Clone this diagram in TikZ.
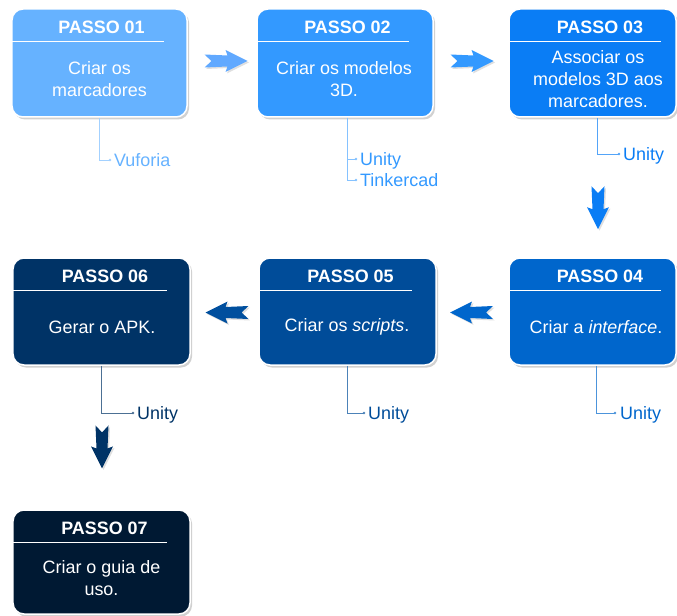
\documentclass[tikz,border=0pt]{standalone}
\usepackage{fontspec}
\setmainfont{Liberation Sans}
\usetikzlibrary{shadows,calc}
\definecolor{c1}{HTML}{66B2FF}
\definecolor{c2}{HTML}{3399FF}
\definecolor{c3}{HTML}{0A7DF5}
\definecolor{c4}{HTML}{0066CC}
\definecolor{c5}{HTML}{004C99}
\definecolor{c6}{HTML}{003366}
\definecolor{c7}{HTML}{001933}
\tikzset{
  barrow/.pic={\fill[pic actions, drop shadow={shadow xshift=1.5bp,shadow yshift=-1.5bp,opacity=0.25}]
    (-21.5,6.5) -- (-14.5,0) -- (-21.5,-6.5) -- (1.5,-5.5) -- (-0.5,-11) -- (21.5,0)
    -- (-0.5,11) -- (1.5,5.5) -- cycle;}
}
\begin{document}
\begin{tikzpicture}[x=1bp,y=-1bp,
  box/.style={draw=white, line width=1.5bp, rounded corners=11bp, inner sep=0pt,
    drop shadow={shadow xshift=2bp, shadow yshift=-2.5bp, opacity=0.3, fill=black!60}},
  ttl/.style={text=white, font=\fontsize{18}{22}\selectfont\bfseries, inner sep=0pt},
  bdy/.style={text=white, font=\fontsize{18}{22}\selectfont, align=center, inner sep=0pt},
  lbl/.style={font=\fontsize{18}{22}\selectfont, anchor=west, inner sep=0pt, text height=13bp, text depth=0pt},
  hline/.style={white, line width=0.9bp},
  conn/.style={line width=0.7bp},
  dot/.style={circle, inner sep=0pt, minimum size=2.6bp},
]
\useasboundingbox (0,0) rectangle (677,616);

% ---------- boxes ----------
\node[box, fill=c1, minimum width=175bp, minimum height=108bp] (b1) at (99.5,63) {};
\node[box, fill=c2, minimum width=176bp, minimum height=108bp] (b2) at (345,63) {};
\node[box, fill=c3, minimum width=167bp, minimum height=108bp] (b3) at (592.5,63) {};
\node[box, fill=c4, minimum width=167bp, minimum height=107bp] (b4) at (592.5,311.5) {};
\node[box, fill=c5, minimum width=177bp, minimum height=107bp] (b5) at (347.5,311.5) {};
\node[box, fill=c6, minimum width=177bp, minimum height=107bp] (b6) at (101.5,311.5) {};
\node[box, fill=c7, minimum width=177bp, minimum height=104bp] (b7) at (101.5,562) {};

% header lines
\foreach \b/\r in {b1/24,b2/25,b3/16,b4/16,b5/25,b6/24,b7/24}{
  \draw[hline] ([yshift=-33bp]\b.north west) -- ([xshift=-\r bp,yshift=-33bp]\b.north east);
}

% titles
\node[ttl] (t1) at ([xshift=2bp,yshift=-19.5bp]b1.north) {PASSO 01};
\node[ttl] (t2) at ([xshift=2.5bp,yshift=-19.5bp]b2.north) {PASSO 02};
\node[ttl] (t3) at ([xshift=7.5bp,yshift=-19.5bp]b3.north) {PASSO 03};
\node[ttl] (t4) at ([xshift=7.5bp,yshift=-19.5bp]b4.north) {PASSO 04};
\node[ttl] (t5) at ([xshift=3bp,yshift=-19.5bp]b5.north) {PASSO 05};
\node[ttl] (t6) at ([xshift=3.5bp,yshift=-19.5bp]b6.north) {PASSO 06};
\node[ttl] (t7) at ([xshift=3bp,yshift=-19.5bp]b7.north) {PASSO 07};

% bodies
\node[bdy] (d1) at ([yshift=-70.5bp]b1.north) {Criar os\\marcadores};
\node[bdy] (d2) at ([xshift=-1bp,yshift=-70.5bp]b2.north) {Criar os modelos\\3D.};
\node[bdy] (d3) at ([xshift=5.5bp,yshift=-70.5bp]b3.north) {Associar os\\modelos 3D aos\\marcadores.};
\node[bdy] (d4) at ([xshift=3.5bp,yshift=-70bp]b4.north) {Criar a \textit{interface}.};
\node[bdy] (d5) at ([xshift=-0.5bp,yshift=-70bp]b5.north) {Criar os \textit{scripts}.};
\node[bdy] (d6) at ([xshift=0.5bp,yshift=-70bp]b6.north) {Gerar o APK.};
\node[bdy] (d7) at ([yshift=-69bp]b7.north) {Criar o guia de\\uso.};

% ---------- labels ----------
\node[lbl, text=c1] (l1) at (114,160) {Vuforia};
\node[lbl, text=c2] (l2a) at (360,159) {Unity};
\node[lbl, text=c2] (l2b) at (360,180) {Tinkercad};
\node[lbl, text=c3] (l3) at (623,154) {Unity};
\node[lbl, text=c4] (l4) at (620,413) {Unity};
\node[lbl, text=c5] (l5) at (368,413) {Unity};
\node[lbl, text=c6] (l6) at (137,413) {Unity};

% ---------- connectors to labels ----------
\draw[conn, c1!60] (b1.south) |- ([xshift=-4bp]l1.west) node[dot, fill=c1!60]{};
\draw[conn, c2!60] ([xshift=2bp]b2.south) |- ([xshift=-4bp]l2a.west) node[dot, fill=c2!60]{};
\draw[conn, c2!60] ([xshift=2bp]b2.south) |- ([xshift=-4bp]l2b.west) node[dot, fill=c2!60]{};
\draw[conn, c3!70] ([xshift=4.5bp]b3.south) |- ([xshift=-4bp]l3.west) node[dot, fill=c3!70]{};
\draw[conn, c4!70] ([xshift=3.5bp]b4.south) |- ([xshift=-5bp]l4.west) node[dot, fill=c4!70]{};
\draw[conn, c5!70] (b5.south) |- ([xshift=-4bp]l5.west) node[dot, fill=c5!70]{};
\draw[conn, c6!70] (b6.south) |- ([xshift=-4bp]l6.west) node[dot, fill=c6!70]{};

% ---------- block arrows between steps ----------
\pic[fill=c1!95!blue] at ($(b1.east)!0.5!(b2.west)+(4,-2)$) {barrow};
\pic[fill=c2] at ($(b2.east)!0.5!(b3.west)+(1,-2)$) {barrow};
\pic[fill=c3, rotate=-90] at ($(b3.south)!0.645!(b4.north)+(5.5,0)$) {barrow};
\pic[fill=c4, rotate=180] at ($(b4.west)!0.5!(b5.east)+(-1,1)$) {barrow};
\pic[fill=c5!90!c4, rotate=180] at ($(b5.west)!0.5!(b6.east)+(2.5,1)$) {barrow};
\pic[fill=c6, rotate=-90] at ($(b6.south)!0.566!(b7.north)+(0.5,0)$) {barrow};
\end{tikzpicture}
\end{document}
